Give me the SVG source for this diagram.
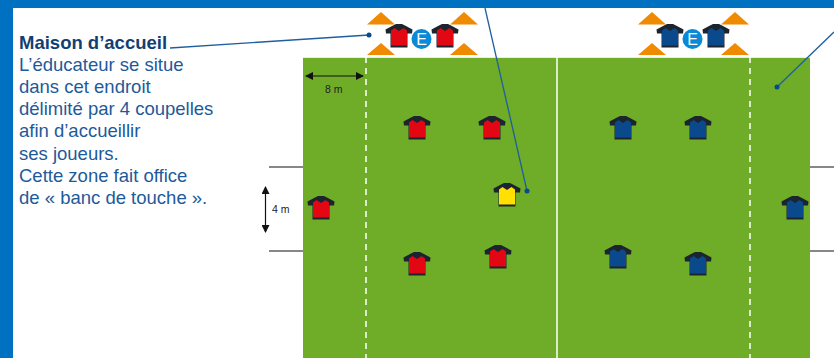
<svg xmlns="http://www.w3.org/2000/svg" width="834" height="358" viewBox="0 0 834 358">
<style>
.t{font-family:"Liberation Sans",Arial,sans-serif;font-size:18.500px;fill:#1d5a9a}
.b{font-weight:bold;fill:#123f73}
.d{font-family:"Liberation Sans",Arial,sans-serif;font-size:10.500px;fill:#222}
.c{fill:#f08a00}
.conn{stroke:#1f5f9e;stroke-width:1.3;fill:none}
.blk{stroke:#111;stroke-width:1.2;fill:none}
.e{font-family:"Liberation Sans",Arial,sans-serif;font-size:16px;fill:#fff;text-anchor:middle}
.red{fill:#e30613}.navy{fill:#0a4a8c}.yel{fill:#ffe000}
</style>
<defs>
<marker id="ah" viewBox="0 0 8 8" refX="7" refY="4" markerWidth="8" markerHeight="8" orient="auto-start-reverse" markerUnits="userSpaceOnUse"><path d="M0 0L8 4L0 8Z" fill="#111"/></marker>
<g id="sleeves"><path d="M-6 -10.500L-3 -12L3 -12L6 -10.500L13.500 -6.500L13 -2.500L8.500 -2.500L8.500 11.500L-8.500 11.500L-8.500 -2.500L-13 -2.500L-13.500 -6.500Z" fill="#1c2430"/></g>
<path id="body" d="M-4.500 -8L0 -5L4.500 -8L8 -5.500L8 9.500L-8 9.500L-8 -5.500Z"/>
</defs>
<rect width="834" height="358" fill="#fff"/>
<rect width="834" height="8" fill="#0070c0"/>
<rect width="13" height="358" fill="#0070c0"/>
<g id="field">
<rect x="303" y="57" width="507" height="301" fill="#6fac28"/>
<path d="M303 57.500H810" stroke="#e8f0dc" stroke-width="1"/>
<path d="M557 57V358" stroke="#fff" stroke-width="1.500"/>
<path d="M366 57V358M750 57V358" stroke="#fff" stroke-width="1.500" stroke-dasharray="6 5"/>
</g>
<g id="text-maison">
<text class="t b" x="19" y="49">Maison d’accueil</text>
<text class="t" x="19" y="71">L’éducateur se situe</text>
<text class="t" x="19" y="93">dans cet endroit</text>
<text class="t" x="19" y="115">délimité par 4 coupelles</text>
<text class="t" x="19" y="137">afin d’accueillir</text>
<text class="t" x="19" y="160">ses joueurs.</text>
<text class="t" x="19" y="182">Cette zone fait office</text>
<text class="t" x="19" y="204">de « banc de touche ».</text>
</g>
<g id="measures">
<path class="blk" d="M269 167H303M269 251H303M810 167H834M810 251H834"/>
<path class="blk" d="M306 76H363" marker-start="url(#ah)" marker-end="url(#ah)"/>
<path class="blk" d="M265.500 187V232" marker-start="url(#ah)" marker-end="url(#ah)"/>
<text class="d" x="325" y="93">8 m</text>
<text class="d" x="272" y="213">4 m</text>
</g>
<g id="cones-red">
<path class="c" d="M381 12L395 24.500H367ZM381 43L395 55H367ZM464 12L478 24.500H450ZM464 43L478 55H450Z"/>
</g>
<g id="cones-blue">
<path class="c" d="M652 12L666 24.500H638ZM652 43L666 55H638ZM735 12L749 24.500H721ZM735 43L749 55H721Z"/>
</g>
<g id="connectors">
<path class="conn" d="M170 48L369 35"/><circle cx="369" cy="35" r="2.500" fill="#0a4a8c"/>
<path class="conn" d="M485 8L527 191"/><circle cx="527" cy="191" r="2.500" fill="#0a4a8c"/>
<path class="conn" d="M834 32L777 87"/><circle cx="777" cy="87" r="2.500" fill="#0a4a8c"/>
</g>
<g id="educ-red"><circle cx="421.500" cy="39" r="10" fill="#0a8ad6"/><text class="e" x="421.500" y="45">E</text></g>
<g id="educ-blue"><circle cx="692.500" cy="39" r="10" fill="#0a8ad6"/><text class="e" x="692.500" y="45">E</text></g>
<g id="j1" transform="translate(399 36)"><use href="#sleeves"/><use href="#body" class="red"/></g>
<g id="j2" transform="translate(445 36)"><use href="#sleeves"/><use href="#body" class="red"/></g>
<g id="j3" transform="translate(670 36)"><use href="#sleeves"/><use href="#body" class="navy"/></g>
<g id="j4" transform="translate(716 36)"><use href="#sleeves"/><use href="#body" class="navy"/></g>
<g id="j5" transform="translate(417 128)"><use href="#sleeves"/><use href="#body" class="red"/></g>
<g id="j6" transform="translate(492 128)"><use href="#sleeves"/><use href="#body" class="red"/></g>
<g id="j7" transform="translate(321 208)"><use href="#sleeves"/><use href="#body" class="red"/></g>
<g id="j8" transform="translate(417 264)"><use href="#sleeves"/><use href="#body" class="red"/></g>
<g id="j9" transform="translate(498 257)"><use href="#sleeves"/><use href="#body" class="red"/></g>
<g id="j10" transform="translate(507 195)"><use href="#sleeves"/><use href="#body" class="yel"/></g>
<g id="j11" transform="translate(623 128)"><use href="#sleeves"/><use href="#body" class="navy"/></g>
<g id="j12" transform="translate(698 128)"><use href="#sleeves"/><use href="#body" class="navy"/></g>
<g id="j13" transform="translate(795 208)"><use href="#sleeves"/><use href="#body" class="navy"/></g>
<g id="j14" transform="translate(618 257)"><use href="#sleeves"/><use href="#body" class="navy"/></g>
<g id="j15" transform="translate(698 264)"><use href="#sleeves"/><use href="#body" class="navy"/></g>
</svg>
